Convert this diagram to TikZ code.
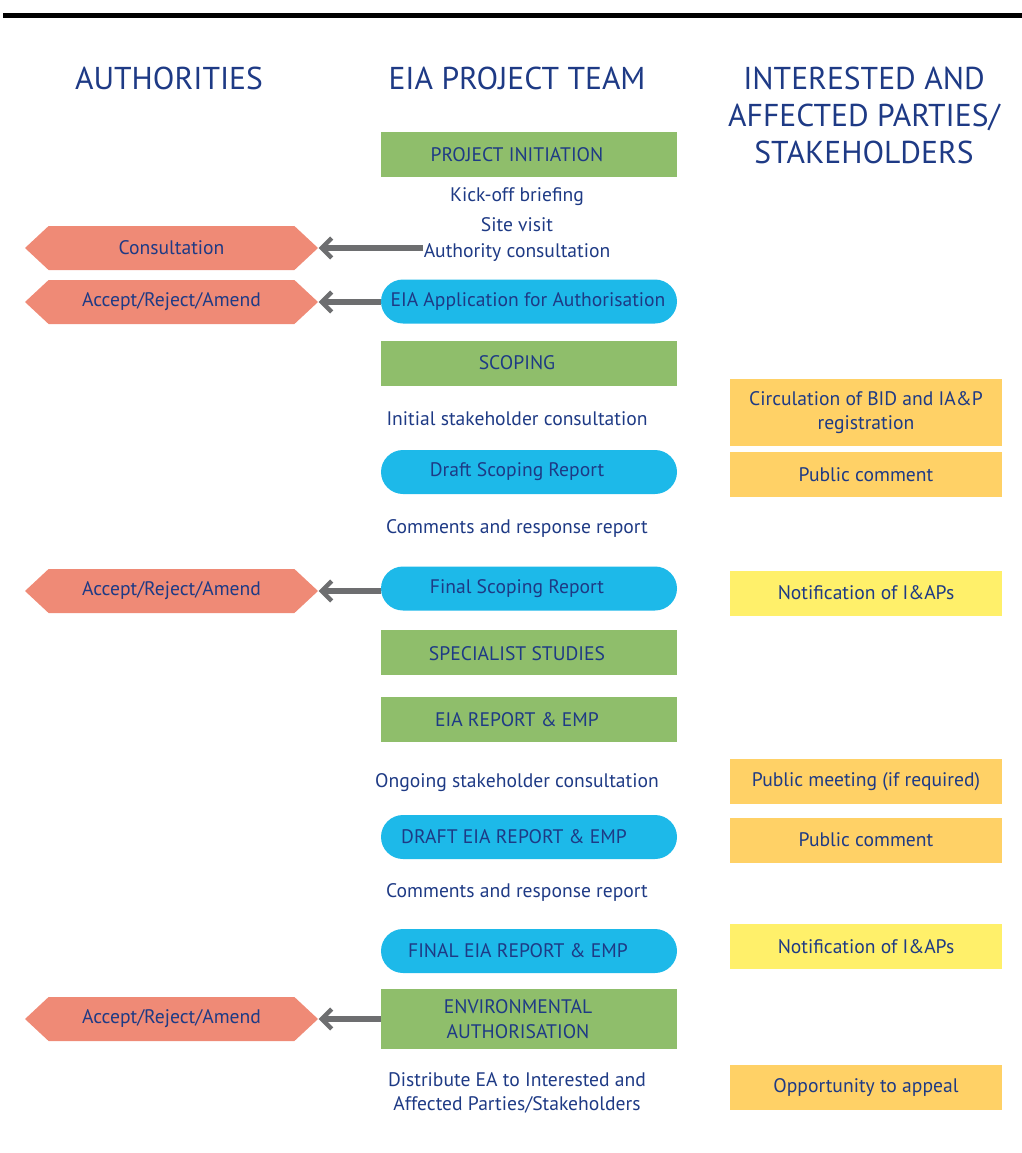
\documentclass[tikz,border=0pt]{standalone}
\usepackage{fontspec}
\setmainfont{PT Sans}
\usetikzlibrary{arrows.meta,shapes.misc,shapes.symbols}
\definecolor{navy}{HTML}{1E3A85}
\definecolor{gbox}{HTML}{8FBE6B}
\definecolor{bbox}{HTML}{1DB9E9}
\definecolor{sbox}{HTML}{EF8A76}
\definecolor{obox}{HTML}{FFD166}
\definecolor{ybox}{HTML}{FFF06A}
\definecolor{arrgray}{HTML}{6D6E70}
\begin{document}
\begin{tikzpicture}[x=0.5pt,y=-0.5pt,
  every node/.style={text=navy,font=\fontsize{9.8}{12}\selectfont,inner sep=0pt},
  head/.style={font=\fontsize{15.8}{18.5}\selectfont,align=center},
  gstep/.style={fill=gbox,minimum width=148pt,minimum height=22.5pt},
  bstep/.style={fill=bbox,rounded rectangle,minimum width=148pt,minimum height=22pt},
  ibox/.style={fill=obox,minimum width=136pt,minimum height=22.5pt,align=center},
  ybx/.style={fill=ybox,minimum width=136pt,minimum height=22.5pt,align=center},
  hexa/.style={fill=sbox,shape=signal,signal to=west and east,signal pointer angle=86,minimum width=146.5pt,minimum height=22pt},
  txt/.style={align=center},
  arr/.style={draw=arrgray,line width=3pt,-{Straight Barb[length=5pt,width=10pt,line width=2.2pt]}}
]
\useasboundingbox (0,0) rectangle (1022,1153);
\fill[black] (3,13) rectangle (1022,18);

% headers
\node[head] (h1) at (169,78) {AUTHORITIES};
\node[head] (h2) at (517,78) {EIA PROJECT TEAM};
\node[head,anchor=north] (h3) at (864,67) {INTERESTED AND\\AFFECTED PARTIES/\\STAKEHOLDERS};

% centre column
\node[gstep] (init) at (529,154.5) {};
\node[txt] (initT) at (517,154.5) {PROJECT INITIATION};
\node[txt] (kick) at (517,197) {Kick-off briefing};
\node[txt] (site) at (517,225) {Site visit};
\node[txt] (auth) at (517,253) {Authority consultation};
\node[bstep] (app) at (529,301.5) {};
\node[txt] (appT) at (528,301.5) {EIA Application for Authorisation};
\node[gstep] (scop) at (529,363) {};
\node[txt] (scopT) at (517,363) {SCOPING};
\node[txt] (isc) at (517,419) {Initial stakeholder consultation};
\node[bstep] (dsr) at (529,472) {};
\node[txt] (dsrT) at (517,472) {Draft Scoping Report};
\node[txt] (crr1) at (517,528) {Comments and response report};
\node[bstep] (fsr) at (529,588.5) {};
\node[txt] (fsrT) at (517,588.5) {Final Scoping Report};
\node[gstep] (spec) at (529,652.5) {};
\node[txt] (specT) at (517,654) {SPECIALIST STUDIES};
\node[gstep] (eia) at (529,719) {};
\node[txt] (eiaT) at (517,720) {EIA REPORT \& EMP};
\node[txt] (osc) at (517,783) {Ongoing stakeholder consultation};
\node[bstep] (deia) at (529,837) {};
\node[txt] (deiaT) at (514,837) {DRAFT EIA REPORT \& EMP};
\node[txt] (crr2) at (517,892) {Comments and response report};
\node[bstep] (feia) at (529,951) {};
\node[txt] (feiaT) at (518,951) {FINAL EIA REPORT \& EMP};
\node[gstep,minimum height=30pt] (ea) at (529,1019) {};
\node[txt,font=\fontsize{9.8}{12.5}\selectfont] (eaT) at (518,1019) {ENVIRONMENTAL\\AUTHORISATION};
\node[txt] (dist) at (517,1093) {Distribute EA to Interested and\\Affected Parties/Stakeholders};

% right column
\node[ibox,minimum height=33.5pt] (circ) at (866,412.5) {Circulation of BID and IA\&P\\registration};
\node[ibox] (pc1) at (866,474.5) {Public comment};
\node[ybx] (not1) at (866,593) {Notification of I\&APs};
\node[ibox] (pm) at (866,781.5) {Public meeting (if required)};
\node[ibox] (pc2) at (866,840) {Public comment};
\node[ybx] (not2) at (866,946.5) {Notification of I\&APs};
\node[ibox] (opp) at (866,1087.5) {Opportunity to appeal};

% left column
\node[hexa] (cons) at (171.5,248) {Consultation};
\node[hexa] (acc1) at (171.5,302) {Accept/Reject/Amend};
\node[hexa] (acc2) at (171.5,591) {Accept/Reject/Amend};
\node[hexa] (acc3) at (171.5,1019) {Accept/Reject/Amend};

% arrows
\draw[arr] (cons.east -| auth.west) -- (cons.east);
\draw[arr] (acc1.east -| app.west) -- (acc1.east);
\draw[arr] (acc2.east -| fsr.west) -- (acc2.east);
\draw[arr] (acc3.east -| ea.west) -- (acc3.east);
\end{tikzpicture}
\end{document}
